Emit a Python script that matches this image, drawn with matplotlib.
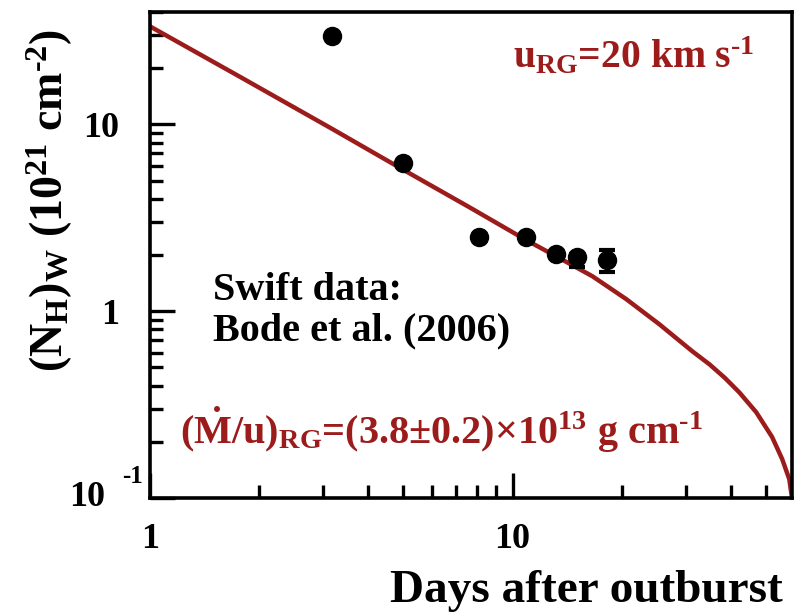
import numpy as np
import matplotlib
matplotlib.use("Agg")
import matplotlib.pyplot as plt
from matplotlib.ticker import FixedLocator, NullFormatter, LogLocator

plt.rcParams['font.family'] = 'Liberation Serif'
plt.rcParams['font.weight'] = 'bold'
plt.rcParams['mathtext.fontset'] = 'custom'
plt.rcParams['mathtext.rm'] = 'Liberation Serif:bold'
plt.rcParams['mathtext.it'] = 'Liberation Serif:bold'
plt.rcParams['mathtext.bf'] = 'Liberation Serif:bold'
plt.rcParams['mathtext.default'] = 'rm'

# Swift data (Bode et al. 2006)
days_obs = [3.17, 5.0, 8.1, 10.9, 13.2, 15.1, 18.2]
nh_obs = [29.6, 6.2, 2.5, 2.5, 2.03, 1.95, 1.88]
nh_err_lo = [0, 0, 0, 0, 0, 0.22, 0.25]
nh_err_hi = [0, 0, 0, 0, 0, 0.08, 0.25]

# wind model curve
days_model = [1.0, 1.77, 3.17, 4.98, 7.61, 10.8, 13.5, 16.6, 20.6, 25.4,
              31.3, 35.0, 38.5, 42.2, 47.0, 52.0, 55.4, 58.0, 59.0]
nh_model = [33.5, 18.0, 9.5, 5.74, 3.60, 2.43, 1.92, 1.54, 1.16, 0.852,
            0.611, 0.518, 0.440, 0.368, 0.288, 0.212, 0.162, 0.126, 0.1]

xticks = [1, 10]
xticklabels = ['1', '10']
yticks = [1, 10]
yticklabels = ['1', '10']

red = '#9c1c1c'
W, H = 798, 613
HY = '\u2010'  # short hyphen for the exponents

fig = plt.figure(figsize=(W / 100, H / 100), dpi=100)
ax = fig.add_axes([150 / W, 1 - 498 / H, (792 - 150) / W, (498 - 12) / H])
ax.set_xscale('log')
ax.set_yscale('log')

ax.plot(days_model, nh_model, color=red, lw=3.2, zorder=2,
        solid_capstyle='butt', solid_joinstyle='round')
ax.plot(days_obs, nh_obs, 'o', color='black', ms=13, zorder=3)
idx = [i for i in range(len(days_obs)) if nh_err_lo[i] > 0]
ax.errorbar([days_obs[i] for i in idx], [nh_obs[i] for i in idx],
            yerr=[[nh_err_lo[i] for i in idx], [nh_err_hi[i] for i in idx]],
            fmt='none', ecolor='black', elinewidth=2.5,
            capsize=6, capthick=3, zorder=4)

ax.set_xlim(1, 59)
ax.set_ylim(0.1, 40)

ax.xaxis.set_major_locator(FixedLocator(xticks))
ax.set_xticklabels(xticklabels)
ax.yaxis.set_major_locator(FixedLocator([0.1] + yticks))
ax.set_yticklabels([''] + yticklabels)
ax.xaxis.set_minor_locator(LogLocator(base=10, subs=np.arange(2, 10)))
ax.yaxis.set_minor_locator(LogLocator(base=10, subs=np.arange(2, 10)))
ax.xaxis.set_minor_formatter(NullFormatter())
ax.yaxis.set_minor_formatter(NullFormatter())

ax.tick_params(which='both', direction='in', top=False, right=False, width=2.4)
ax.tick_params(which='major', length=18, labelsize=26)
ax.tick_params(axis='x', which='major', pad=18)
ax.tick_params(axis='y', which='major', pad=22)
ax.tick_params(which='minor', length=9.5)
for s in ax.spines.values():
    s.set_linewidth(2.6)

# 10^-1 label drawn by hand like the original
ytr = ax.get_yaxis_transform()
ax.text(-0.07, 0.1, '10', transform=ytr, ha='right', va='center',
        fontsize=26, clip_on=False)
ax.text(-0.011, 0.12, '-1', transform=ytr, ha='right', va='baseline',
        fontsize=18, clip_on=False)

fig.text(586 / W, 1 - 602 / H, 'Days after outburst', ha='center', va='baseline',
         fontsize=34)
fig.text(50 / W, 1 - 200 / H,
         r'(N$_{H}$)$_{W}$ (10$^{21}$ cm$^{' + HY + '2}$)',
         ha='center', va='center', rotation=90, fontsize=33)

fig.text(513 / W, 1 - 68 / H, r'u$_{RG}$=20 km s$^{' + HY + '1}$', color=red,
         ha='left', va='baseline', fontsize=28.5)
fig.text(213 / W, 1 - 300 / H, 'Swift data:', ha='left', va='baseline',
         fontsize=29)
fig.text(213 / W, 1 - 340 / H, 'Bode et al. (2006)', ha='left', va='baseline',
         fontsize=29)
fig.text(180 / W, 1 - 444 / H,
         r'($\dot{M}$/u)$_{RG}$=(3.8$\pm$0.2)$\times$10$^{13}$ g cm$^{' + HY + '1}$',
         color=red, ha='left', va='baseline', fontsize=29)

fig.savefig('out.png', dpi=100)
